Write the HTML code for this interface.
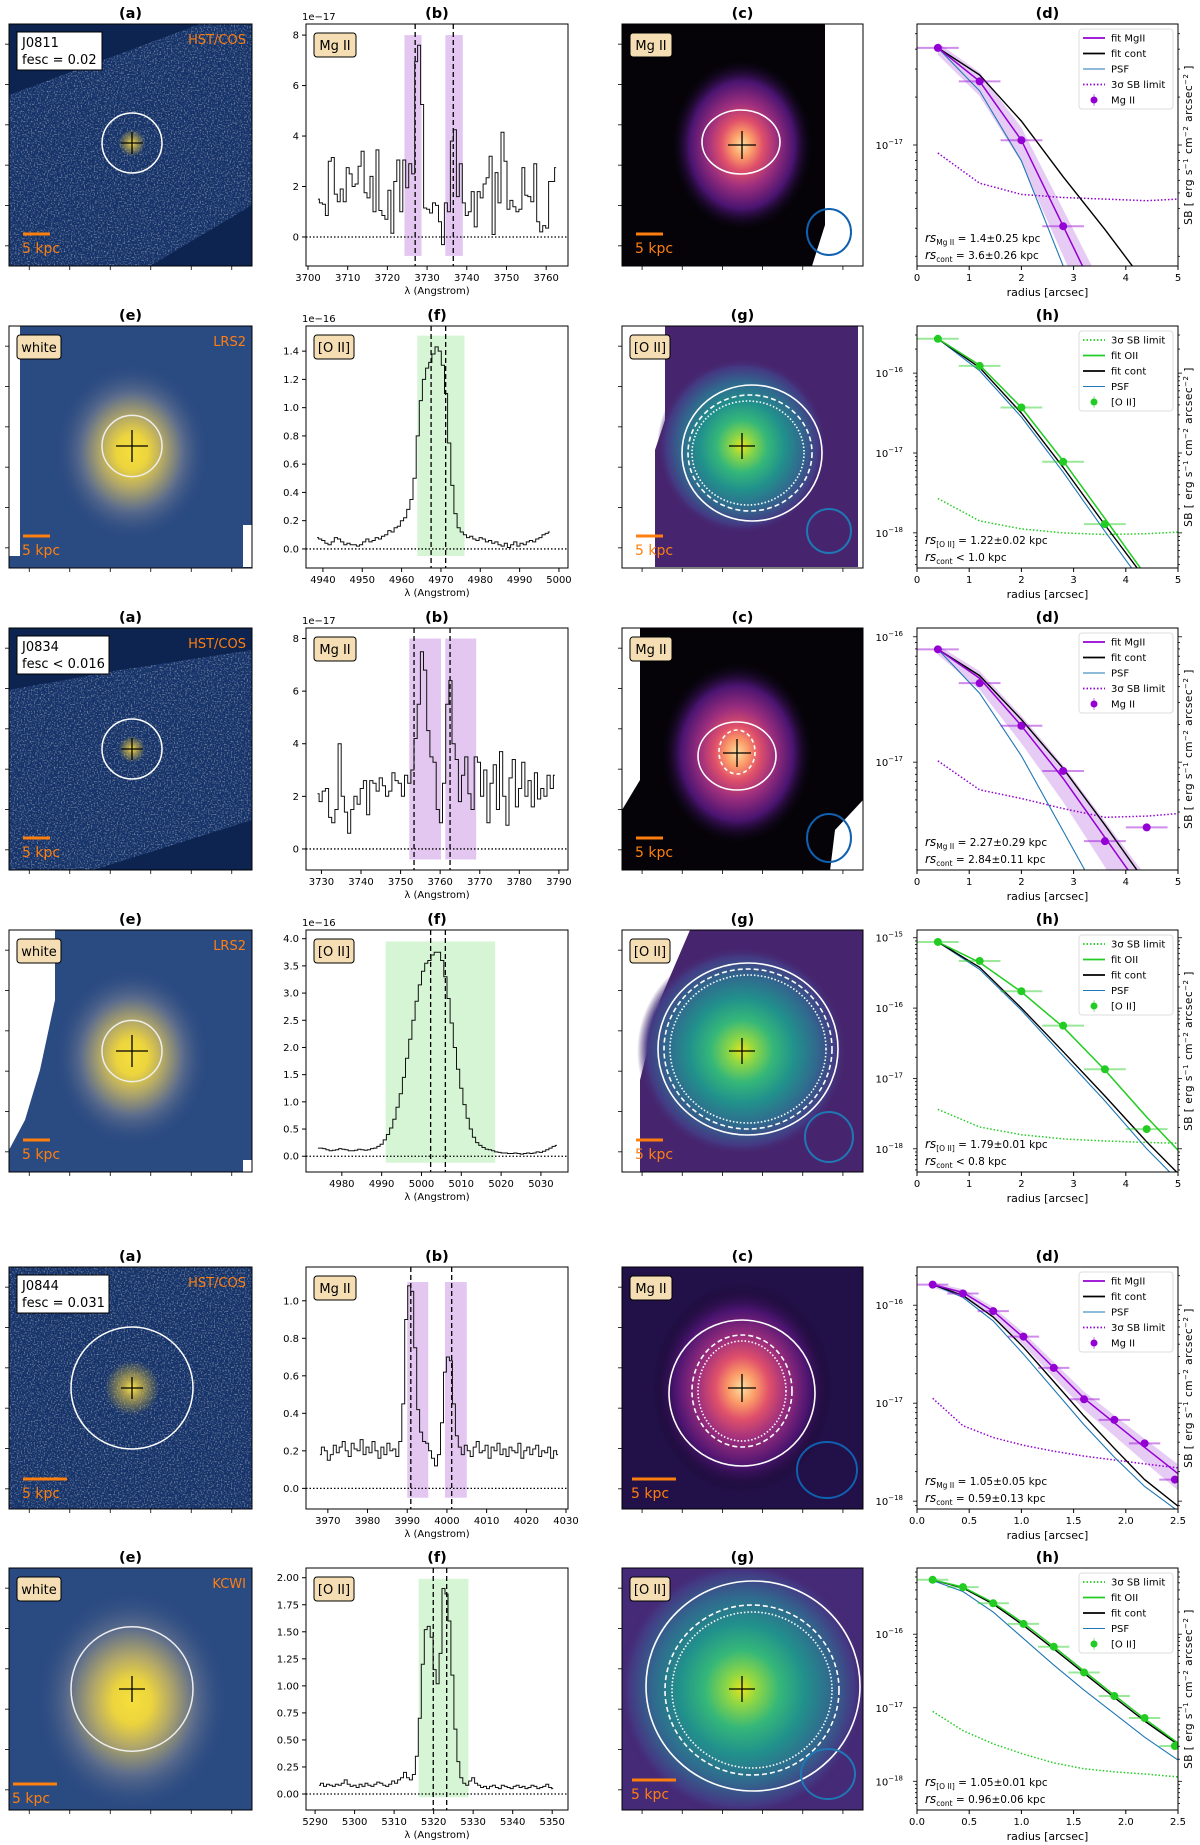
<!DOCTYPE html>
<html><head><meta charset="utf-8"><style>
html,body{margin:0;padding:0;background:#fff;}
svg{display:block;font-family:"DejaVu Sans","Liberation Sans",sans-serif;}
</style></head><body>
<svg id="fig" xmlns="http://www.w3.org/2000/svg" width="1200" height="1845" viewBox="0 0 1200 1845">
<defs>
<filter id="speck" x="0" y="0" width="100%" height="100%">
<feTurbulence type="fractalNoise" baseFrequency="0.7" numOctaves="1" seed="3"/>
<feColorMatrix type="matrix" values="0 0 0 0 0.62  0 0 0 0 0.62  0 0 0 0 0.6  4 0 0 0 -2.0"/>
</filter>
<radialGradient id="glowY"><stop offset="0" stop-color="#ffe84a"/><stop offset="0.35" stop-color="#c9b247" stop-opacity="0.8"/><stop offset="1" stop-color="#c9b247" stop-opacity="0"/></radialGradient>
<radialGradient id="whiteG"><stop offset="0" stop-color="#f6df3a"/><stop offset="0.2" stop-color="#ecd43e"/><stop offset="0.4" stop-color="#b3a868"/><stop offset="0.65" stop-color="#5d6d8c"/><stop offset="1" stop-color="#2a4a82" stop-opacity="0"/></radialGradient>
<radialGradient id="magmaG"><stop offset="0" stop-color="#fde0a0"/><stop offset="0.15" stop-color="#fb9b68"/><stop offset="0.3" stop-color="#e0506a"/><stop offset="0.5" stop-color="#9c2e7e"/><stop offset="0.75" stop-color="#4a1470"/><stop offset="1" stop-color="#10061e" stop-opacity="0"/></radialGradient>
<radialGradient id="viridG"><stop offset="0" stop-color="#e4e419"/><stop offset="0.12" stop-color="#8fd744"/><stop offset="0.3" stop-color="#35b779"/><stop offset="0.5" stop-color="#21918c"/><stop offset="0.72" stop-color="#31688e"/><stop offset="0.9" stop-color="#443983"/><stop offset="1" stop-color="#46216a" stop-opacity="0"/></radialGradient>
</defs>
</svg>
<script>
// ---------------- DATA ----------------
const fluxR1 = [1.5,1.35,1.3,0.85,3.0,3.15,1.7,1.4,1.9,1.4,2.75,2.5,2.0,2.1,2.8,3.4,1.75,1.55,2.4,1.0,3.45,1.05,0.85,0.7,1.85,0.15,2.2,3.05,1.0,3.05,1.95,2.9,2.5,6.95,7.6,5.25,1.15,1.1,0.95,1.35,1.25,0.6,-0.3,1.35,1.0,3.8,4.25,1.6,2.9,1.35,0.85,1.0,1.8,0.4,1.8,1.55,2.1,2.35,3.2,0.1,2.55,1.35,4.15,3.0,1.1,1.45,1.2,1.0,1.1,2.75,1.65,1.6,1.4,2.9,0.6,0.2,0.45,0.35,2.2,2.2,2.75];
const fluxR2 = [0.08,0.07,0.06,0.04,0.03,0.05,0.08,0.07,0.05,0.03,0.04,0.03,0.03,0.02,0.03,0.05,0.07,0.05,0.06,0.08,0.07,0.09,0.1,0.13,0.12,0.15,0.16,0.2,0.22,0.28,0.35,0.5,0.8,1.05,1.2,1.28,1.32,1.38,1.43,1.4,1.3,1.1,0.75,0.45,0.25,0.15,0.12,0.1,0.08,0.09,0.07,0.06,0.08,0.07,0.05,0.06,0.04,0.05,0.03,0.02,0.04,0.01,0.03,0.05,0.02,0.04,0.03,0.05,0.06,0.05,0.07,0.08,0.1,0.11,0.12];
const fluxR3 = [2.1,1.8,2.2,2.3,1.2,1.0,1.5,4.0,2.0,1.4,0.6,1.5,2.0,1.7,2.3,2.6,1.3,2.6,2.5,2.2,2.7,2.4,2.0,2.2,2.9,2.6,2.5,2.0,2.8,2.5,3.0,4.2,5.5,7.5,6.8,4.5,3.5,3.3,1.5,1.0,2.5,5.5,6.4,4.0,3.4,1.8,2.8,3.5,2.1,1.5,3.5,3.3,2.0,3.0,1.0,2.5,3.2,1.5,3.7,2.0,0.9,2.7,3.4,1.6,2.3,3.3,2.0,2.6,1.6,2.9,1.9,2.3,2.0,2.8,2.3,2.8];
const fluxR4 = [0.15,0.15,0.14,0.12,0.1,0.11,0.12,0.14,0.13,0.12,0.1,0.1,0.11,0.13,0.12,0.11,0.12,0.14,0.15,0.18,0.22,0.3,0.4,0.52,0.68,0.9,1.15,1.45,1.8,2.15,2.5,2.85,3.15,3.4,3.55,3.6,3.7,3.75,3.75,3.6,3.3,2.9,2.45,2.0,1.6,1.25,0.95,0.7,0.5,0.35,0.25,0.2,0.16,0.13,0.12,0.1,0.08,0.07,0.06,0.06,0.05,0.05,0.06,0.05,0.04,0.05,0.06,0.05,0.06,0.08,0.07,0.09,0.12,0.15,0.18,0.2];
const fluxR5 = [0.18,0.22,0.2,0.15,0.18,0.23,0.19,0.22,0.25,0.2,0.17,0.24,0.21,0.2,0.26,0.18,0.22,0.19,0.25,0.2,0.16,0.22,0.18,0.24,0.2,0.21,0.17,0.25,0.45,0.9,1.08,1.05,0.75,0.42,0.3,0.25,0.24,0.2,0.16,0.12,0.18,0.35,0.62,0.7,0.68,0.45,0.28,0.22,0.18,0.23,0.2,0.17,0.22,0.25,0.19,0.2,0.23,0.16,0.22,0.2,0.24,0.18,0.21,0.17,0.22,0.2,0.19,0.24,0.16,0.2,0.22,0.18,0.21,0.23,0.17,0.2,0.19,0.22,0.16,0.2,0.18];
const fluxR6 = [0.08,0.1,0.07,0.09,0.08,0.07,0.09,0.08,0.1,0.13,0.09,0.07,0.08,0.06,0.09,0.07,0.1,0.08,0.07,0.09,0.11,0.1,0.08,0.07,0.09,0.12,0.1,0.13,0.15,0.2,0.15,0.13,0.18,0.35,0.7,1.2,1.52,1.55,1.45,1.15,1.02,1.3,1.9,1.85,1.6,1.1,0.6,0.3,0.15,0.1,0.08,0.12,0.15,0.1,0.08,0.06,0.07,0.05,0.07,0.08,0.06,0.05,0.08,0.07,0.06,0.05,0.07,0.08,0.06,0.07,0.05,0.06,0.08,0.07,0.05,0.06,0.07,0.09,0.06,0.05];

const xTicksR1=[3700,3710,3720,3730,3740,3750,3760], yTicksR1=[0,2,4,6,8];
const xTicksR2=[4940,4950,4960,4970,4980,4990,5000], yTicksR2=[0,0.2,0.4,0.6,0.8,1.0,1.2,1.4];
const xTicksR3=[3730,3740,3750,3760,3770,3780,3790], yTicksR3=[0,2,4,6,8];
const xTicksR4=[4980,4990,5000,5010,5020,5030], yTicksR4=[0,0.5,1.0,1.5,2.0,2.5,3.0,3.5,4.0];
const xTicksR5=[3970,3980,3990,4000,4010,4020,4030], yTicksR5=[0,0.2,0.4,0.6,0.8,1.0];
const xTicksR6=[5290,5300,5310,5320,5330,5340,5350], yTicksR6=[0,0.25,0.5,0.75,1.0,1.25,1.5,1.75,2.0];

// profiles: radius and log10(SB)
const radR1=[0.4,1.2,2.0,2.8], sbR1=[-16.39,-16.60,-16.97,-17.51];
const fitLineR1=[-16.39,-16.60,-16.97,-17.51,-18.05,-18.6,-19.0], contR1=[-16.39,-16.56,-16.85,-17.2,-17.53,-17.88,-18.2], psfR1=[-16.39,-16.66,-17.1,-17.76,-18.4,-19.0,-19.4], limR1=[-17.05,-17.24,-17.31,-17.33,-17.34,-17.35,-17.34];
const radR2=[0.4,1.2,2.0,2.8,3.6], sbR2=[-15.57,-15.91,-16.43,-17.11,-17.89];
const fitLineR2=[-15.57,-15.9,-16.43,-17.1,-17.82,-18.55,-19.1], contR2=[-15.57,-15.93,-16.5,-17.18,-17.9,-18.6,-19.1], psfR2=[-15.57,-15.97,-16.55,-17.24,-17.98,-18.7,-19.2], limR2=[-17.57,-17.85,-17.95,-18.0,-18.02,-18.01,-17.99];
const radR3=[0.4,1.2,2.0,2.8,3.6,4.4], sbR3=[-16.10,-16.37,-16.71,-17.07,-17.63,-17.52];
const fitLineR3=[-16.1,-16.33,-16.71,-17.13,-17.6,-18.07,-18.4], contR3=[-16.1,-16.31,-16.66,-17.05,-17.5,-17.97,-18.3], psfR3=[-16.1,-16.45,-16.95,-17.55,-18.15,-18.7,-19.1], limR3=[-16.99,-17.22,-17.29,-17.37,-17.44,-17.43,-17.41];
const radR4=[0.4,1.2,2.0,2.8,3.6,4.4], sbR4=[-15.06,-15.33,-15.76,-16.25,-16.87,-17.72];
const fitLineR4=[-15.06,-15.35,-15.77,-16.27,-16.88,-17.55,-18.02], contR4=[-15.06,-15.42,-16.0,-16.62,-17.25,-17.9,-18.35], psfR4=[-15.06,-15.45,-16.03,-16.68,-17.32,-18.0,-18.45], limR4=[-17.44,-17.69,-17.8,-17.86,-17.89,-17.91,-17.92];
const radR5=[0.15,0.44,0.73,1.02,1.31,1.6,1.89,2.18,2.47], sbR5=[-15.79,-15.88,-16.06,-16.32,-16.64,-16.96,-17.17,-17.41,-17.78];
const fitLineR5=[-15.79,-15.87,-16.06,-16.33,-16.64,-16.95,-17.2,-17.45,-17.72], contR5=[-15.79,-15.9,-16.12,-16.43,-16.78,-17.13,-17.46,-17.78,-18.05], psfR5=[-15.79,-15.92,-16.16,-16.5,-16.86,-17.22,-17.55,-17.85,-18.1], limR5=[-16.95,-17.23,-17.35,-17.43,-17.49,-17.54,-17.58,-17.62,-17.66];
const radR6=[0.15,0.44,0.73,1.02,1.31,1.6,1.89,2.18,2.47], sbR6=[-15.26,-15.36,-15.58,-15.86,-16.17,-16.52,-16.84,-17.14,-17.52];
const fitLineR6=[-15.26,-15.36,-15.57,-15.85,-16.17,-16.5,-16.83,-17.15,-17.48], contR6=[-15.26,-15.37,-15.59,-15.88,-16.2,-16.53,-16.86,-17.18,-17.5], psfR6=[-15.27,-15.42,-15.7,-16.06,-16.42,-16.76,-17.08,-17.4,-17.71], limR6=[-17.05,-17.31,-17.49,-17.63,-17.75,-17.83,-17.87,-17.9,-17.94];
const lineRadA=[0.4,1.2,2.0,2.8,3.6,4.4,5.0];
const lineRadB=[0.15,0.44,0.73,1.02,1.31,1.6,1.89,2.18,2.5];

// --------------- HELPERS ---------------
const NS='http://www.w3.org/2000/svg';
const svg=document.getElementById('fig');
function mk(tag,attrs,parent){const e=document.createElementNS(NS,tag);for(const k in attrs)e.setAttribute(k,attrs[k]);(parent||svg).appendChild(e);return e;}
function txt(str,attrs,parent){const e=mk('text',attrs,parent);e.textContent=str;return e;}
const TOPS=[24,326,628,930,1267,1568], H=242;
const CA=[9,252], CB=[306,568], CC=[622,863], CD=[917,1178];
let clipN=0;
function clip(x,y,w,h){const id='cp'+(clipN++);const c=mk('clipPath',{id:id},svg.querySelector('defs'));mk('rect',{x:x,y:y,width:w,height:h},c);return 'url(#'+id+')';}
function title(s,cx,top){const t=txt(s,{x:cx,y:top-6,'text-anchor':'middle','font-size':14.5,'font-weight':'bold'});

}
function tagBox(s,x,y,w,parent){const g=mk('g',{},parent);


mk('rect',{x:x,y:y,width:w,height:24,rx:3,fill:'#f5deb3',stroke:'#000','stroke-width':1},g);
txt(s,{x:x+w/2,y:y+17,'text-anchor':'middle','font-size':13},g);}
function imgTicks(x0,x1,y0,y1,g){for(let i=0;i<6;i++){const yy=y0+(i+0.5)*(y1-y0)/6;mk('line',{x1:x0,x2:x0-4,y1:yy,y2:yy,stroke:'#000','stroke-width':0.8},g);const xx=x0+(i+0.5)*(x1-x0)/6;mk('line',{x1:xx,x2:xx,y1:y1,y2:y1+4,stroke:'#000','stroke-width':0.8},g);}}
function frame(x0,x1,y0,y1,g){mk('rect',{x:x0,y:y0,width:x1-x0,height:y1-y0,fill:'none',stroke:'#000','stroke-width':1},g);}
function fmt(v,d){return v.toFixed(d);}

// --------------- SPECTRUM ---------------
function drawSpec(c){
 const top=TOPS[c.row], x0=CB[0], x1=CB[1], y0=top, y1=top+H;
 const g=mk('g',{});
 
 
 const sx=v=>x0+(v-c.xmin)/(c.xmax-c.xmin)*(x1-x0);
 const sy=v=>y1-(v-c.ymin)/(c.ymax-c.ymin)*(y1-y0);
 const inner=mk('g',{'clip-path':clip(x0,y0,x1-x0,y1-y0)},g);
 c.bands.forEach(b=>{const r=mk('rect',{x:sx(b[0]),y:sy(c.bandY[1]),width:sx(b[1])-sx(b[0]),height:sy(c.bandY[0])-sy(c.bandY[1]),fill:c.bandColor},inner);
 
 });
 mk('line',{x1:x0,x2:x1,y1:sy(0),y2:sy(0),stroke:'#000','stroke-width':1.3,'stroke-dasharray':'1.5,2'},inner);
 c.lines.forEach(l=>{const d=mk('line',{x1:sx(l),x2:sx(l),y1:y0,y2:y1,stroke:'#000','stroke-width':1.3,'stroke-dasharray':'5,3'},inner);
 
 });
 const n=c.flux.length;let d='';
 for(let i=0;i<n;i++){const w=c.w0+i*c.dw;const xl=i==0?w:w-c.dw/2, xr=i==n-1?w:w+c.dw/2;
  d+=(i==0?'M':'L')+sx(xl).toFixed(1)+','+sy(c.flux[i]).toFixed(1)+'L'+sx(xr).toFixed(1)+','+sy(c.flux[i]).toFixed(1);}
 const p=mk('path',{d:d,fill:'none',stroke:'#111','stroke-width':1},inner);
 
 
 frame(x0,x1,y0,y1,g);
 c.xt.forEach(v=>{const X=sx(v);mk('line',{x1:X,x2:X,y1:y1,y2:y1+4,stroke:'#000'},g);txt(String(v),{x:X,y:y1+15,'text-anchor':'middle','font-size':10},g);});
 c.yt.forEach(v=>{const Y=sy(v);mk('line',{x1:x0,x2:x0-4,y1:Y,y2:Y,stroke:'#000'},g);txt(fmt(v,c.yd),{x:x0-7,y:Y+3.5,'text-anchor':'end','font-size':10},g);});
 if(c.expo)txt(c.expo,{x:x0-4,y:y0-4,'font-size':10},g);
 const xl=txt('λ (Angstrom)',{x:(x0+x1)/2,y:y1+28,'text-anchor':'middle','font-size':10},g);
 
 
 tagBox(c.tag,x0+8,y0+9,c.tag=='Mg II'?42:40,g);
 title(c.title,(x0+x1)/2,top);
}
const PURP='rgba(204,153,230,0.55)', GRN='rgba(150,230,150,0.4)';
drawSpec({row:0,name:'spectrum-mgii-j0811',title:'(b)',flux:fluxR1,w0:3702.5,dw:0.75,xmin:3699.5,xmax:3765.5,ymin:-1.15,ymax:8.44,xt:xTicksR1,yt:yTicksR1,yd:0,expo:'1e−17',bands:[[3724.3,3728.6],[3734.6,3739]],bandY:[-0.75,8.0],bandColor:PURP,lines:[3727,3736.6],tag:'Mg II'});
drawSpec({row:1,name:'spectrum-oii-j0811',title:'(f)',flux:fluxR2,w0:4938.5,dw:0.8,xmin:4935.7,xmax:5002.3,ymin:-0.135,ymax:1.578,xt:xTicksR2,yt:yTicksR2,yd:1,expo:'1e−16',bands:[[4964,4976]],bandY:[-0.05,1.51],bandColor:GRN,lines:[4967.5,4971.2],tag:'[O II]'});
drawSpec({row:2,name:'spectrum-mgii-j0834',title:'(b)',flux:fluxR3,w0:3729,dw:0.8,xmin:3726.1,xmax:3792.3,ymin:-0.8,ymax:8.4,xt:xTicksR3,yt:yTicksR3,yd:0,expo:'1e−17',bands:[[3752.2,3760.2],[3761.3,3769.1]],bandY:[-0.4,8.0],bandColor:PURP,lines:[3753.4,3762.5],tag:'Mg II'});
drawSpec({row:3,name:'spectrum-oii-j0834',title:'(f)',flux:fluxR4,w0:4974,dw:0.8,xmin:4971,xmax:5036.8,ymin:-0.29,ymax:4.16,xt:xTicksR4,yt:yTicksR4,yd:1,expo:'1e−16',bands:[[4991,5018.5]],bandY:[-0.12,3.95],bandColor:GRN,lines:[5002.3,5006],tag:'[O II]'});
drawSpec({row:4,name:'spectrum-mgii-j0844',title:'(b)',flux:fluxR5,w0:3968,dw:0.75,xmin:3964.5,xmax:4030.5,ymin:-0.11,ymax:1.18,xt:xTicksR5,yt:yTicksR5,yd:1,expo:'',bands:[[3990,3995.3],[3999.5,4005]],bandY:[-0.05,1.1],bandColor:PURP,lines:[3990.9,4001.2],tag:'Mg II'});
drawSpec({row:5,name:'spectrum-oii-j0844',title:'(f)',flux:fluxR6,w0:5291,dw:0.75,xmin:5287.7,xmax:5354,ymin:-0.148,ymax:2.09,xt:xTicksR6,yt:yTicksR6,yd:2,expo:'',bands:[[5316.2,5328.8]],bandY:[-0.03,1.99],bandColor:GRN,lines:[5319.9,5323.3],tag:'[O II]'});

// --------------- PROFILE ---------------
const BLUE='#1f77b4', PC='#9400d3', GC='#22cc22';
function drawProf(c){
 const top=TOPS[c.row], x0=CD[0], x1=CD[1], y0=top, y1=top+H;
 const g=mk('g',{});
 
 
 const sx=v=>x0+v/c.xmax*(x1-x0);
 const sy=v=>y1-(v-c.lmin)/(c.lmax-c.lmin)*(y1-y0);
 const inner=mk('g',{'clip-path':clip(x0,y0,x1-x0,y1-y0)},g);
 const poly=(xs,ys)=>ys.map((v,i)=>sx(xs[i]).toFixed(1)+','+sy(v).toFixed(1)).join(' ');
 if(c.mg){
  const lo=c.fit.map((v,i)=>v-0.02-0.06*c.lr[i]), hi=c.fit.map((v,i)=>v+0.02+0.03*c.lr[i]);
  const pts=poly(c.lr,hi)+' '+poly(c.lr.slice().reverse(),lo.slice().reverse());
  const b=mk('polygon',{points:pts,fill:'rgba(200,140,230,0.45)'},inner);
  
  }
 const L=(ys,col,w,dash,nm)=>{const e=mk('polyline',{points:poly(c.lr,ys),fill:'none',stroke:col,'stroke-width':w,'stroke-dasharray':dash||'none'},inner);
  
  };
 L(c.lim,c.col,1.5,'1.5,2','sb-limit-line');
 L(c.psf,BLUE,1.1,null,'psf-line');
 L(c.cont,'#000',1.4,null,'fit-cont-line');
 L(c.fit,c.col,1.5,null,'fit-line-emission');
 c.rad.forEach((r,i)=>{const X=sx(r),Y=sy(c.sb[i]);
  mk('line',{x1:sx(r-c.dr),x2:sx(r+c.dr),y1:Y,y2:Y,stroke:c.col,'stroke-opacity':0.45,'stroke-width':2},inner);
  const p=mk('circle',{cx:X,cy:Y,r:4,fill:c.col},inner);
  
  });
 frame(x0,x1,y0,y1,g);
 c.xt.forEach(v=>{const X=sx(v);mk('line',{x1:X,x2:X,y1:y1,y2:y1+4,stroke:'#000'},g);txt(c.xd?v.toFixed(1):String(v),{x:X,y:y1+15,'text-anchor':'middle','font-size':10},g);});
 for(let e=Math.floor(c.lmin);e<=Math.ceil(c.lmax);e++){
  for(let m=1;m<10;m++){const lv=e+Math.log10(m);if(lv<c.lmin||lv>c.lmax)continue;const Y=sy(lv);const len=m==1?4:2;
   mk('line',{x1:x0,x2:x0-len,y1:Y,y2:Y,stroke:'#000','stroke-width':0.8},g);mk('line',{x1:x1,x2:x1+len,y1:Y,y2:Y,stroke:'#000','stroke-width':0.8},g);
   if(m==1){const t=txt('10',{x:x0-14,y:Y+4,'text-anchor':'end','font-size':10},g);const s=mk('tspan',{dy:-5,'font-size':7},t);s.textContent='−'+(-e);}}}
 const xl=txt('radius [arcsec]',{x:(x0+x1)/2,y:y1+30,'text-anchor':'middle','font-size':11},g);
 
 
 const yl=txt('SB [ erg s',{transform:'translate(1192,'+(y0+H/2)+') rotate(-90)','text-anchor':'middle','font-size':10.5,'letter-spacing':'0.5'},g);
 const a1=mk('tspan',{dy:-4,'font-size':7},yl);a1.textContent='−1';
 const a2=mk('tspan',{dy:4},yl);a2.textContent=' cm';
 const a3=mk('tspan',{dy:-4,'font-size':7},yl);a3.textContent='−2';
 const a4=mk('tspan',{dy:4},yl);a4.textContent=' arcsec';
 const a5=mk('tspan',{dy:-4,'font-size':7},yl);a5.textContent='−2';
 const a6=mk('tspan',{dy:4},yl);a6.textContent=' ]';
 
 
 const lg=mk('g',{},g);
 
 
 mk('rect',{x:1079,y:y0+5,width:94,height:80,rx:3,fill:'#fff',stroke:'#ddd'},lg);
 c.leg.forEach((it,i)=>{const Y=y0+14+i*15.5;
  if(it[0]=='m'){mk('circle',{cx:1094,cy:Y,r:3.5,fill:it[1]},lg);mk('line',{x1:1094,x2:1094,y1:Y-6,y2:Y+6,stroke:it[1],'stroke-opacity':0.5},lg);}
  else mk('line',{x1:1083,x2:1105,y1:Y,y2:Y,stroke:it[1],'stroke-width':it[1]==BLUE?1.1:1.8,'stroke-dasharray':it[0]=='d'?'1.5,2':'none'},lg);
  const t=txt(it[2],{x:1111,y:Y+3.5,'font-size':10},lg);
  
  });
 const an=mk('g',{},g);
 
 
 const t1=txt('',{x:925,y:y0+218,'font-size':10.5},an);
 let s=mk('tspan',{'font-style':'italic','font-size':12},t1);s.textContent='rs';
 s=mk('tspan',{dy:3,'font-size':7.5},t1);s.textContent=c.sub;
 s=mk('tspan',{dy:-3},t1);s.textContent=' = '+c.a1;
 const t2=txt('',{x:925,y:y0+235,'font-size':10.5},an);
 s=mk('tspan',{'font-style':'italic','font-size':12},t2);s.textContent='rs';
 s=mk('tspan',{dy:3,'font-size':7.5},t2);s.textContent='cont';
 s=mk('tspan',{dy:-3},t2);s.textContent=' '+c.a2;
 title(c.title,(x0+x1)/2,top);
}
const legMg=[['l',PC,'fit MgII'],['l','#000','fit cont'],['l',BLUE,'PSF'],['d',PC,'3σ SB limit'],['m',PC,'Mg II']];
const legO=[['d',GC,'3σ SB limit'],['l',GC,'fit OII'],['l','#000','fit cont'],['l',BLUE,'PSF'],['m',GC,'[O II]']];
const xtA=[0,1,2,3,4,5], xtB=[0,0.5,1.0,1.5,2.0,2.5];
drawProf({row:0,name:'profile-mgii-j0811',title:'(d)',mg:true,col:PC,xmax:5,xt:xtA,xd:false,lmin:-17.76,lmax:-16.24,rad:radR1,sb:sbR1,dr:0.4,lr:lineRadA,fit:fitLineR1,cont:contR1,psf:psfR1,lim:limR1,leg:legMg,sub:'Mg II',a1:'1.4±0.25 kpc',a2:'= 3.6±0.26 kpc'});
drawProf({row:1,name:'profile-oii-j0811',title:'(h)',mg:false,col:GC,xmax:5,xt:xtA,xd:false,lmin:-18.44,lmax:-15.41,rad:radR2,sb:sbR2,dr:0.4,lr:lineRadA,fit:fitLineR2,cont:contR2,psf:psfR2,lim:limR2,leg:legO,sub:'[O II]',a1:'1.22±0.02 kpc',a2:'< 1.0 kpc'});
drawProf({row:2,name:'profile-mgii-j0834',title:'(d)',mg:true,col:PC,xmax:5,xt:xtA,xd:false,lmin:-17.86,lmax:-15.93,rad:radR3,sb:sbR3,dr:0.4,lr:lineRadA,fit:fitLineR3,cont:contR3,psf:psfR3,lim:limR3,leg:legMg,sub:'Mg II',a1:'2.27±0.29 kpc',a2:'= 2.84±0.11 kpc'});
drawProf({row:3,name:'profile-oii-j0834',title:'(h)',mg:false,col:GC,xmax:5,xt:xtA,xd:false,lmin:-18.33,lmax:-14.89,rad:radR4,sb:sbR4,dr:0.4,lr:lineRadA,fit:fitLineR4,cont:contR4,psf:psfR4,lim:limR4,leg:legO,sub:'[O II]',a1:'1.79±0.01 kpc',a2:'< 0.8 kpc'});
drawProf({row:4,name:'profile-mgii-j0844',title:'(d)',mg:true,col:PC,xmax:2.5,xt:xtB,xd:true,lmin:-18.08,lmax:-15.61,rad:radR5,sb:sbR5,dr:0.15,lr:lineRadB,fit:fitLineR5,cont:contR5,psf:psfR5,lim:limR5,leg:legMg,sub:'Mg II',a1:'1.05±0.05 kpc',a2:'= 0.59±0.13 kpc'});
drawProf({row:5,name:'profile-oii-j0844',title:'(h)',mg:false,col:GC,xmax:2.5,xt:xtB,xd:true,lmin:-18.39,lmax:-15.10,rad:radR6,sb:sbR6,dr:0.15,lr:lineRadB,fit:fitLineR6,cont:contR6,psf:psfR6,lim:limR6,leg:legO,sub:'[O II]',a1:'1.05±0.01 kpc',a2:'= 0.96±0.06 kpc'});

// --------------- IMAGES ---------------
function scaleBar(x,y,len,g){mk('line',{x1:x,x2:x+len,y1:y,y2:y,stroke:'#ff7f0e','stroke-width':3},g);
 const t=txt('5 kpc',{x:x-1,y:y+19,'font-size':14,fill:'#ff7f0e'},g);
 
 }
function cross(cx,cy,s,g){mk('line',{x1:cx-s,x2:cx+s,y1:cy,y2:cy,stroke:'#000','stroke-width':1.3},g);mk('line',{x1:cx,x2:cx,y1:cy-s,y2:cy+s,stroke:'#000','stroke-width':1.3},g);}
function imgA(row,nm,lab1,lab2,inst,cx,cy,rr,darkPoly,bar){
 const top=TOPS[row],x0=CA[0],x1=CA[1],y0=top,y1=top+H;
 const g=mk('g',{});
 
 
 const inner=mk('g',{'clip-path':clip(x0,y0,x1-x0,H)},g);
 mk('rect',{x:x0,y:y0,width:x1-x0,height:H,fill:'#15336a'},inner);
 mk('rect',{x:x0,y:y0,width:x1-x0,height:H,filter:'url(#speck)',opacity:0.5},inner);
 if(darkPoly)darkPoly.forEach(p=>mk('polygon',{points:p,fill:'#0d2450'},inner));
 mk('circle',{cx:cx,cy:cy,r:rr*0.45,fill:'url(#glowY)'},inner);
 mk('ellipse',{cx:cx,cy:cy,rx:rr,ry:rr,fill:'none',stroke:'#fff','stroke-width':1.5},inner);
 cross(cx,cy,11,inner);
 scaleBar(x0+14,y1-bar,bar==32?27:44,inner);
 const bg=mk('g',{},g);
 
 
 mk('rect',{x:x0+8,y:y0+8,width:lab2.length>11?92:85,height:38,fill:'#fff',stroke:'#000'},bg);
 txt(lab1,{x:x0+13,y:y0+23,'font-size':13},bg);txt(lab2,{x:x0+13,y:y0+40,'font-size':13},bg);
 txt(inst,{x:x1-6,y:y0+20,'text-anchor':'end','font-size':13,fill:'#ff7f0e'},g);
 frame(x0,x1,y0,y1,g);imgTicks(x0,x1,y0,y1,g);title('(a)',(x0+x1)/2,top);
}
imgA(0,'hst-image-j0811','J0811','fesc = 0.02','HST/COS',132,143,30,['9,24 200,24 9,95','252,205 252,266 150,266'],32);
imgA(2,'hst-image-j0834','J0834','fesc < 0.016','HST/COS',132,749,30,['9,628 252,628 252,650 120,670 9,690','252,820 252,871 90,871'],32);
imgA(4,'hst-image-j0844','J0844','fesc = 0.031','HST/COS',132,1388,61,null,30);

function imgE(row,nm,inst,cx,cy,rr,gs,whites){
 const top=TOPS[row],x0=CA[0],x1=CA[1],y0=top,y1=top+H;
 const g=mk('g',{});
 
 
 const inner=mk('g',{'clip-path':clip(x0,y0,x1-x0,H)},g);
 mk('rect',{x:x0,y:y0,width:x1-x0,height:H,fill:'#2a4a82'},inner);
 mk('ellipse',{cx:cx,cy:cy+rr*0.2,rx:rr*gs,ry:rr*gs*1.15,fill:'url(#whiteG)'},inner);
 whites.forEach(p=>mk('polygon',{points:p,fill:'#fff'},inner));
 mk('ellipse',{cx:cx,cy:cy,rx:rr,ry:rr*1.02,fill:'none',stroke:'#eee','stroke-width':1.5},inner);
 cross(cx,cy,rr>40?13:16,inner);
 scaleBar(x0+(rr>40?4:14),y1-(rr>40?26:32),rr>40?44:27,inner);
 tagBox('white',x0+8,y0+9,44,g);
 txt(inst,{x:x1-6,y:y0+20,'text-anchor':'end','font-size':13,fill:'#ff7f0e'},g);
 frame(x0,x1,y0,y1,g);imgTicks(x0,x1,y0,y1,g);title('(e)',(x0+x1)/2,top);
}
imgE(1,'white-light-image-j0811','LRS2',132,446,30,2.6,['9,326 9,556 20,556 20,326','243,525 252,525 252,567 243,567']);
imgE(3,'white-light-image-j0834','LRS2',132,1051,30,2.6,['9,930 55,930 55,1000 40,1070 25,1120 9,1150','243,1160 252,1160 252,1172 243,1172']);
imgE(5,'white-light-image-j0844','KCWI',132,1689,61,1.6,[]);

function imgC(row,nm,isO,cx,cy,bgc,dataPoly,grad,gr,conts,beam,tag,ttl){
 const top=TOPS[row],x0=CC[0],x1=CC[1],y0=top,y1=top+H;
 const g=mk('g',{});
 
 
 const inner=mk('g',{'clip-path':clip(x0,y0,x1-x0,H)},g);
 mk('rect',{x:x0,y:y0,width:x1-x0,height:H,fill:'#fff'},inner);
 mk('polygon',{points:dataPoly,fill:bgc},inner);
 mk('ellipse',{cx:cx,cy:cy,rx:gr[0],ry:gr[1],fill:'url(#'+grad+')'},inner);
 conts.forEach(c=>{const e=mk('ellipse',{cx:c[0],cy:c[1],rx:c[2],ry:c[3],fill:'none',stroke:'#fff','stroke-width':1.6,'stroke-dasharray':c[4]||'none'},inner);
  
  });
 cross(cx,cy,isO?13:14,inner);
 const b=mk('ellipse',{cx:beam[0],cy:beam[1],rx:beam[2],ry:beam[3],fill:'none',stroke:isO?'#1f77b4':'#1060b0','stroke-width':2},inner);
 
 
 scaleBar(x0+(row>=4?10:14),y1-(row>=4?30:32),row>=4?44:27,inner);
 tagBox(tag,x0+8,y0+9,tag=='Mg II'?42:40,g);
 frame(x0,x1,y0,y1,g);imgTicks(x0,x1,y0,y1,g);title(ttl,(x0+x1)/2,top);
}
imgC(0,'mgii-map-j0811',false,742,145,'#050308','622,24 825,24 825,225 812,266 622,266','magmaG',[70,85],[[741,142,39,32]],[829,232,22,23],'Mg II','(c)');
imgC(1,'oii-map-j0811',true,742,446,'#46256e','665,326 858,326 858,567 655,567 655,450 665,420','viridG',[85,88],[[752,453,70,68],[750,453,62,58,'5,3'],[748,453,56,52,'1.5,2']],[829,531,22,22],'[O II]','(g)');
imgC(2,'mgii-map-j0834',false,737,753,'#050308','640,628 863,628 863,800 835,830 830,871 622,871 622,810 640,780','magmaG',[75,90],[[737,756,39,34],[737,752,18,22,'4,3']],[829,838,22,24],'Mg II','(c)');
imgC(3,'oii-map-j0834',true,742,1051,'#46256e','690,930 863,930 863,1172 640,1172 640,1080 660,1000','viridG',[105,105],[[748,1049,90,86],[748,1049,84,80,'5,3'],[748,1049,78,74,'1.5,2']],[829,1137,24,25],'[O II]','(g)');
imgC(4,'mgii-map-j0844',false,742,1388,'#221048','622,1267 863,1267 863,1509 622,1509','magmaG',[90,105],[[742,1393,73,73],[742,1391,50,56,'5,3'],[742,1391,44,50,'1.5,2']],[827,1470,30,28],'Mg II','(c)');
imgC(5,'oii-map-j0844',true,742,1689,'#452a78','622,1568 863,1568 863,1810 622,1810','viridG',[125,130],[[753,1686,107,105],[752,1690,87,85,'5,3'],[752,1690,80,78,'1.5,2']],[828,1774,27,25],'[O II]','(g)');
</script>
</body></html>
